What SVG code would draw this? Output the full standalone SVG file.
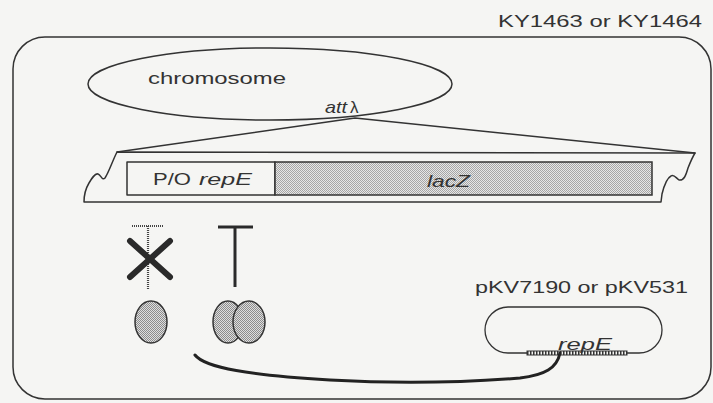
<svg xmlns="http://www.w3.org/2000/svg" width="713" height="403" viewBox="0 0 713 403">
<defs>
<pattern id="stip" width="2" height="2" patternUnits="userSpaceOnUse">
<rect width="2" height="2" fill="#e6e6e6"/>
<rect width="1" height="1" fill="#a6a6a6"/>
<rect x="1" y="1" width="1" height="1" fill="#a6a6a6"/>
</pattern>
<pattern id="stipD" width="2" height="2" patternUnits="userSpaceOnUse">
<rect width="2" height="2" fill="#dedede"/>
<rect width="1" height="1" fill="#8c8c8c"/>
<rect x="1" y="1" width="1" height="1" fill="#8c8c8c"/>
</pattern>
</defs>
<style>
.ln{fill:none;stroke:#333;stroke-width:1.5;stroke-linejoin:round;stroke-linecap:round}
.tx{font-family:"Liberation Sans",Arial,sans-serif;font-size:17px;fill:#333}
.it{font-style:italic}
</style>
<rect width="713" height="403" fill="#f5f5f3"/>
<g id="cell">
<rect x="13" y="37" width="698" height="362" rx="32" ry="32" class="ln"/>
<text class="tx" x="498" y="27" textLength="204" lengthAdjust="spacingAndGlyphs">KY1463 or KY1464</text>
</g>
<g id="chromosome">
<ellipse cx="270" cy="84" rx="182" ry="36" class="ln"/>
<text class="tx" x="148" y="84" textLength="138" lengthAdjust="spacingAndGlyphs">chromosome</text>
<text class="tx it" x="325" y="113" textLength="22" lengthAdjust="spacingAndGlyphs">att</text>
<text class="tx" x="350" y="113">λ</text>
</g>
<g id="insert">
<path class="ln" d="M117,152 L695,153 C692,158 690,163 688,168 C686,175 684,181 679,180 C676,178 674,174 671,176 C667,178 664,186 662,194 L661,202 L84,202 C84,196 86,188 89,183 C92,178 95,173 98,174 C101,175 102,181 105,178 C109,172 112,162 117,152 Z"/>
<rect id="po" x="127" y="162" width="148" height="33" class="ln"/>
<text class="tx" x="153" y="185" textLength="38" lengthAdjust="spacingAndGlyphs">P/O</text>
<text class="tx it" x="199" y="185" textLength="53" lengthAdjust="spacingAndGlyphs">repE</text>
<rect id="lacz" x="275" y="162" width="377" height="33" fill="url(#stip)" stroke="#333" stroke-width="1.5"/>
<text class="tx it" x="427" y="187" textLength="43" lengthAdjust="spacingAndGlyphs">lacZ</text>
</g>
<g id="blocked">
<line x1="132" y1="226" x2="163" y2="226" stroke="#444" stroke-width="2.2" stroke-dasharray="1 1"/>
<line x1="148" y1="226" x2="148" y2="289" stroke="#444" stroke-width="2.2" stroke-dasharray="1 1"/>
<line x1="130" y1="241" x2="170" y2="277" stroke="#2a2a2a" stroke-width="6" stroke-linecap="round"/>
<line x1="170" y1="241" x2="130" y2="277" stroke="#2a2a2a" stroke-width="6" stroke-linecap="round"/>
<ellipse cx="151" cy="322" rx="16" ry="21" fill="url(#stipD)" stroke="#333" stroke-width="1.5"/>
</g>
<g id="repressor">
<line x1="218" y1="227" x2="253" y2="227" stroke="#2a2a2a" stroke-width="3"/>
<line x1="235" y1="227" x2="235" y2="287" stroke="#2a2a2a" stroke-width="3"/>
<ellipse cx="228" cy="322" rx="15" ry="21" fill="url(#stipD)" stroke="#333" stroke-width="1.5"/>
<ellipse cx="249" cy="322" rx="16" ry="21" fill="url(#stipD)" stroke="#333" stroke-width="1.5"/>
</g>
<g id="plasmid">
<rect x="485" y="307" width="177" height="46" rx="23" ry="23" fill="none" stroke="#333" stroke-width="1.3"/>
<text class="tx" x="475" y="293" textLength="213" lengthAdjust="spacingAndGlyphs">pKV7190 or pKV531</text>
<rect x="527" y="351" width="100" height="4" fill="#f5f5f3" stroke="#333" stroke-width="1"/>
<line x1="527" y1="353" x2="627" y2="353" stroke="#333" stroke-width="4" stroke-dasharray="1.5 1.5"/>
<text class="tx it" x="558" y="350" textLength="54" lengthAdjust="spacingAndGlyphs">repE</text>
</g>
<g id="connectors">
<path d="M195,355 C205,368 250,375 330,380 C400,384 470,382 520,378 C545,375 557,368 560,353" fill="none" stroke="#222" stroke-width="3" stroke-linecap="round"/>
<path class="ln" d="M117,152 L355,118 L695,153"/>
</g>
</svg>
